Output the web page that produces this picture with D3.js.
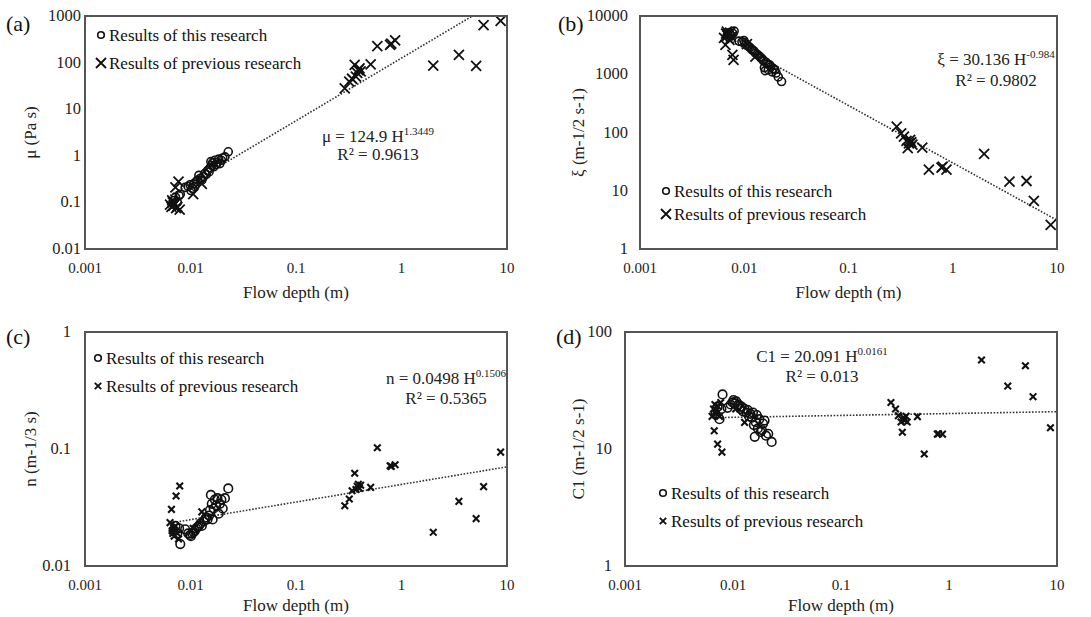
<!DOCTYPE html>
<html>
<head>
<meta charset="utf-8">
<script src="https://cdn.jsdelivr.net/npm/d3@7"></script>
<style>
  body { margin: 0; background: #fff; }
  svg { display: block; }
  svg text { font-family: "Liberation Serif", "Times New Roman", serif; }
</style>
</head>
<body>
<svg width="1091" height="617"></svg>
<script>
// Depths (m) shared by all four panels
const thisDepth = [0.0069, 0.0072, 0.0075, 0.0078, 0.0080, 0.0089, 0.0095, 0.0099, 0.0101, 0.0104, 0.0107, 0.0110,
  0.0113, 0.0117, 0.0120, 0.0124, 0.0128, 0.0133, 0.0137, 0.0141, 0.0145, 0.0150, 0.0153, 0.0156,
  0.0159, 0.0162, 0.0166, 0.0170, 0.0175, 0.0180, 0.0185, 0.0190, 0.0196, 0.0202, 0.0212, 0.0228];
const prevDepth = [0.0064, 0.0066, 0.0067, 0.0068, 0.0069, 0.0070, 0.0072, 0.0073, 0.0075, 0.0077, 0.0079, 0.0106,
  0.0128, 0.29, 0.32, 0.34, 0.36, 0.37, 0.38, 0.39, 0.40, 0.41, 0.51, 0.59, 0.78, 0.80, 0.87, 2.0, 3.5, 5.1, 6.0, 8.7];

// (a) viscosity mu (Pa s)
const thisMu = [0.11, 0.13, 0.10, 0.14, 0.15, 0.21, 0.22, 0.24, 0.18, 0.20, 0.25, 0.22, 0.28, 0.30, 0.38, 0.33, 0.30, 0.36,
  0.42, 0.40, 0.48, 0.45, 0.55, 0.75, 0.62, 0.70, 0.58, 0.80, 0.65, 0.72, 0.85, 0.68, 0.80, 0.90, 0.95, 1.22];
const prevMu = [0.09, 0.08, 0.11, 0.10, 0.085, 0.09, 0.21, 0.075, 0.08, 0.28, 0.07, 0.15, 0.25, 28, 39, 45, 89, 50, 60, 69,
  75, 65, 92, 225, 240, 255, 300, 86, 146, 85, 640, 790];

// (b) xi (m-1/2 s-1)
const thisXi = [4800, 5200, 4600, 5000, 5500, 3700, 3600, 3800, 3500, 3300, 3100, 3000, 2900, 2700, 2600, 2500, 2300, 2200,
  2100, 2000, 1900, 1800, 1700, 1300, 1150, 1600, 1500, 1200, 1450, 1350, 1100, 1250, 1200, 1050, 900, 750];
const prevXi = [4200, 3200, 5000, 5400, 4600, 4900, 3900, 5200, 4400, 2150, 1760, 3300, 2000, 126, 97, 85, 72, 54, 65, 75,
  68, 62, 55, 23, 25, 26, 23, 43, 14.3, 14.7, 6.7, 2.6];

// (c) Manning n (m-1/3 s)
const thisN = [0.020, 0.022, 0.019, 0.021, 0.0154, 0.0206, 0.019, 0.0184, 0.018, 0.019, 0.0195, 0.020, 0.021, 0.0215,
  0.022, 0.023, 0.022, 0.024, 0.025, 0.026, 0.025, 0.027, 0.030, 0.0405, 0.034, 0.025, 0.031, 0.037, 0.033, 0.038,
  0.028, 0.034, 0.037, 0.031, 0.038, 0.046];
const prevN = [0.0235, 0.0305, 0.020, 0.019, 0.021, 0.018, 0.022, 0.0397, 0.019, 0.017, 0.0483, 0.021, 0.029, 0.0327,
  0.0374, 0.044, 0.062, 0.045, 0.048, 0.050, 0.046, 0.049, 0.047, 0.1025, 0.072, 0.071, 0.0733, 0.0194, 0.0357,
  0.0254, 0.0477, 0.094];

// (d) C1 (m-1/2 s-1)
const thisC1 = [20, 23, 18, 22, 29.3, 22.5, 24, 25, 26.2, 24.5, 25.5, 23.5, 24, 22, 23, 21, 22, 20.5, 21.5, 19, 20, 18.5,
  20.5, 16, 12.7, 17, 19.5, 15, 18, 14, 14.5, 16.5, 17.5, 13, 13.5, 11.5];
const prevC1 = [19, 22, 14.3, 24, 21, 20, 11.0, 23, 19, 25, 9.4, 22, 16.9, 25, 22, 19.3, 17, 13.9, 18.5, 17.5, 19, 17,
  18.9, 9.06, 13.4, 13.5, 13.4, 57.7, 34.5, 51.5, 28, 15.2];

// power-law fits y = a H^b shown on each panel
const fitCoef = [124.9, 30.136, 0.0498, 20.091];
const fitExp = [1.3449, -0.984, 0.1506, 0.0161];
const fitR2 = ["0.9613", "0.9802", "0.5365", "0.013"];
const fitLeft = ["μ = 124.9  H", "ξ = 30.136  H", "n = 0.0498  H", "C1 = 20.091  H"];
const fitSup = ["1.3449", "-0.984", "0.1506", "0.0161"];

const xTicks = [0.001, 0.01, 0.1, 1, 10];
const xTickLabels = ["0.001", "0.01", "0.1", "1", "10"];
const yTicksA = [0.01, 0.1, 1, 10, 100, 1000];
const yTicksB = [1, 10, 100, 1000, 10000];
const yTicksC = [0.01, 0.1, 1];
const yTicksD = [1, 10, 100];
const yTitles = ["μ (Pa s)", "ξ (m-1/2 s-1)", "n (m-1/3 s)", "C1 (m-1/2 s-1)"];
const panelNames = ["(a)", "(b)", "(c)", "(d)"];
const legendNames = ["Results of this research", "Results of previous research"];

const svg = d3.select("svg");

const panels = [
  { l: 85, r: 507, t: 16, b: 249, yTicks: yTicksA, thisY: thisMu, prevY: prevMu, xs: 5, cr: 4,
    eq: [378, 142, 160], leg: [101, 35, 63], tag: [6, 31], yt: 30, lab: 4, xt: 49 },
  { l: 640, r: 1057, t: 16, b: 249, yTicks: yTicksB, thisY: thisXi, prevY: prevXi, xs: 5, cr: 4,
    eq: [996, 65, 86], leg: [666, 191, 214], tag: [558, 31], yt: 578, lab: 12, xt: 49 },
  { l: 85, r: 507, t: 332, b: 566, yTicks: yTicksC, thisY: thisN, prevY: prevN, xs: 3.3, cr: 4.3,
    eq: [446, 384, 404], leg: [98, 358, 386], tag: [6, 344], yt: 30, lab: 14, xt: 45 },
  { l: 625, r: 1057, t: 332, b: 566, yTicks: yTicksD, thisY: thisC1, prevY: prevC1, xs: 3.3, cr: 4.3,
    eq: [822, 362, 382], leg: [663, 493, 521], tag: [556, 344], yt: 578, lab: 13, xt: 45 }
];

function xMark(g, x, y, s, w) {
  g.append("path")
    .attr("d", `M${x - s},${y - s}L${x + s},${y + s}M${x - s},${y + s}L${x + s},${y - s}`)
    .attr("stroke", "#111").attr("stroke-width", w).attr("fill", "none");
}

panels.forEach((p, i) => {
  const g = svg.append("g");
  const x = d3.scaleLog().domain([0.001, 10]).range([p.l, p.r]);
  const y = d3.scaleLog().domain([p.yTicks[0], p.yTicks[p.yTicks.length - 1]]).range([p.b, p.t]);

  // tick labels
  g.selectAll(".xt").data(xTicks).join("text")
    .attr("x", d => x(d)).attr("y", p.b + 24)
    .attr("text-anchor", "middle").attr("font-size", 15).attr("fill", "#222")
    .text((d, j) => xTickLabels[j]);
  g.selectAll(".yt").data(p.yTicks).join("text")
    .attr("x", p.l - p.lab).attr("y", d => y(d) + 5)
    .attr("text-anchor", "end").attr("font-size", 16.5).attr("fill", "#222")
    .text(d => d3.format("~g")(d));

  // titles
  g.append("text").attr("x", (p.l + p.r) / 2).attr("y", p.b + p.xt)
    .attr("text-anchor", "middle").attr("font-size", 17).attr("fill", "#222").text("Flow depth (m)");
  g.append("text").attr("transform", `translate(${p.yt},${(p.t + p.b) / 2}) rotate(-90)`)
    .attr("text-anchor", "middle").attr("dy", "0.35em").attr("font-size", 17).attr("fill", "#222").text(yTitles[i]);
  g.append("text").attr("x", p.tag[0]).attr("y", p.tag[1])
    .attr("font-size", 22).attr("fill", "#111").text(panelNames[i]);

  // clip to plot area
  g.append("clipPath").attr("id", "clip" + i).append("rect")
    .attr("x", p.l).attr("y", p.t).attr("width", p.r - p.l).attr("height", p.b - p.t);
  const inner = g.append("g").attr("clip-path", `url(#clip${i})`);

  // trend line
  const hMin = d3.min(prevDepth.concat(thisDepth));
  const fit = h => fitCoef[i] * Math.pow(h, fitExp[i]);
  inner.append("line")
    .attr("x1", x(hMin)).attr("y1", y(fit(hMin)))
    .attr("x2", x(10)).attr("y2", y(fit(10)))
    .attr("stroke", "#333").attr("stroke-width", 1.6).attr("stroke-dasharray", "1.6,1.6");

  // this research (open circles)
  inner.selectAll("circle").data(thisDepth.map((h, j) => [h, p.thisY[j]])).join("circle")
    .attr("cx", d => x(d[0])).attr("cy", d => y(d[1])).attr("r", p.cr)
    .attr("fill", "none").attr("stroke", "#111").attr("stroke-width", 1.6);

  // previous research (crosses)
  prevDepth.forEach((h, j) => xMark(inner, x(h), y(p.prevY[j]), p.xs, p.xs > 4 ? 1.8 : 2.1));

  // frame
  g.append("rect").attr("x", p.l).attr("y", p.t).attr("width", p.r - p.l).attr("height", p.b - p.t)
    .attr("fill", "none").attr("stroke", "#555").attr("stroke-width", 2);

  // legend
  g.append("circle").attr("cx", p.leg[0]).attr("cy", p.leg[1]).attr("r", 3.3)
    .attr("fill", "none").attr("stroke", "#111").attr("stroke-width", 1.6);
  xMark(g, p.leg[0], p.leg[2], p.xs > 4 ? 5 : 3.2, 1.9);
  legendNames.forEach((name, j) => {
    g.append("text").attr("x", p.leg[0] + 8).attr("y", (j ? p.leg[2] : p.leg[1]) + 6)
      .attr("font-size", 17).attr("fill", "#111").text(name);
  });

  // equation
  const eq = g.append("text").attr("x", p.eq[0]).attr("y", p.eq[1])
    .attr("text-anchor", "middle").attr("font-size", 17).attr("fill", "#222");
  eq.append("tspan").text(fitLeft[i]);
  eq.append("tspan").attr("dy", -7).attr("font-size", 11).text(fitSup[i]);
  g.append("text").attr("x", p.eq[0]).attr("y", p.eq[2])
    .attr("text-anchor", "middle").attr("font-size", 17).attr("fill", "#222").text("R² = " + fitR2[i]);
});
</script>
</body>
</html>
